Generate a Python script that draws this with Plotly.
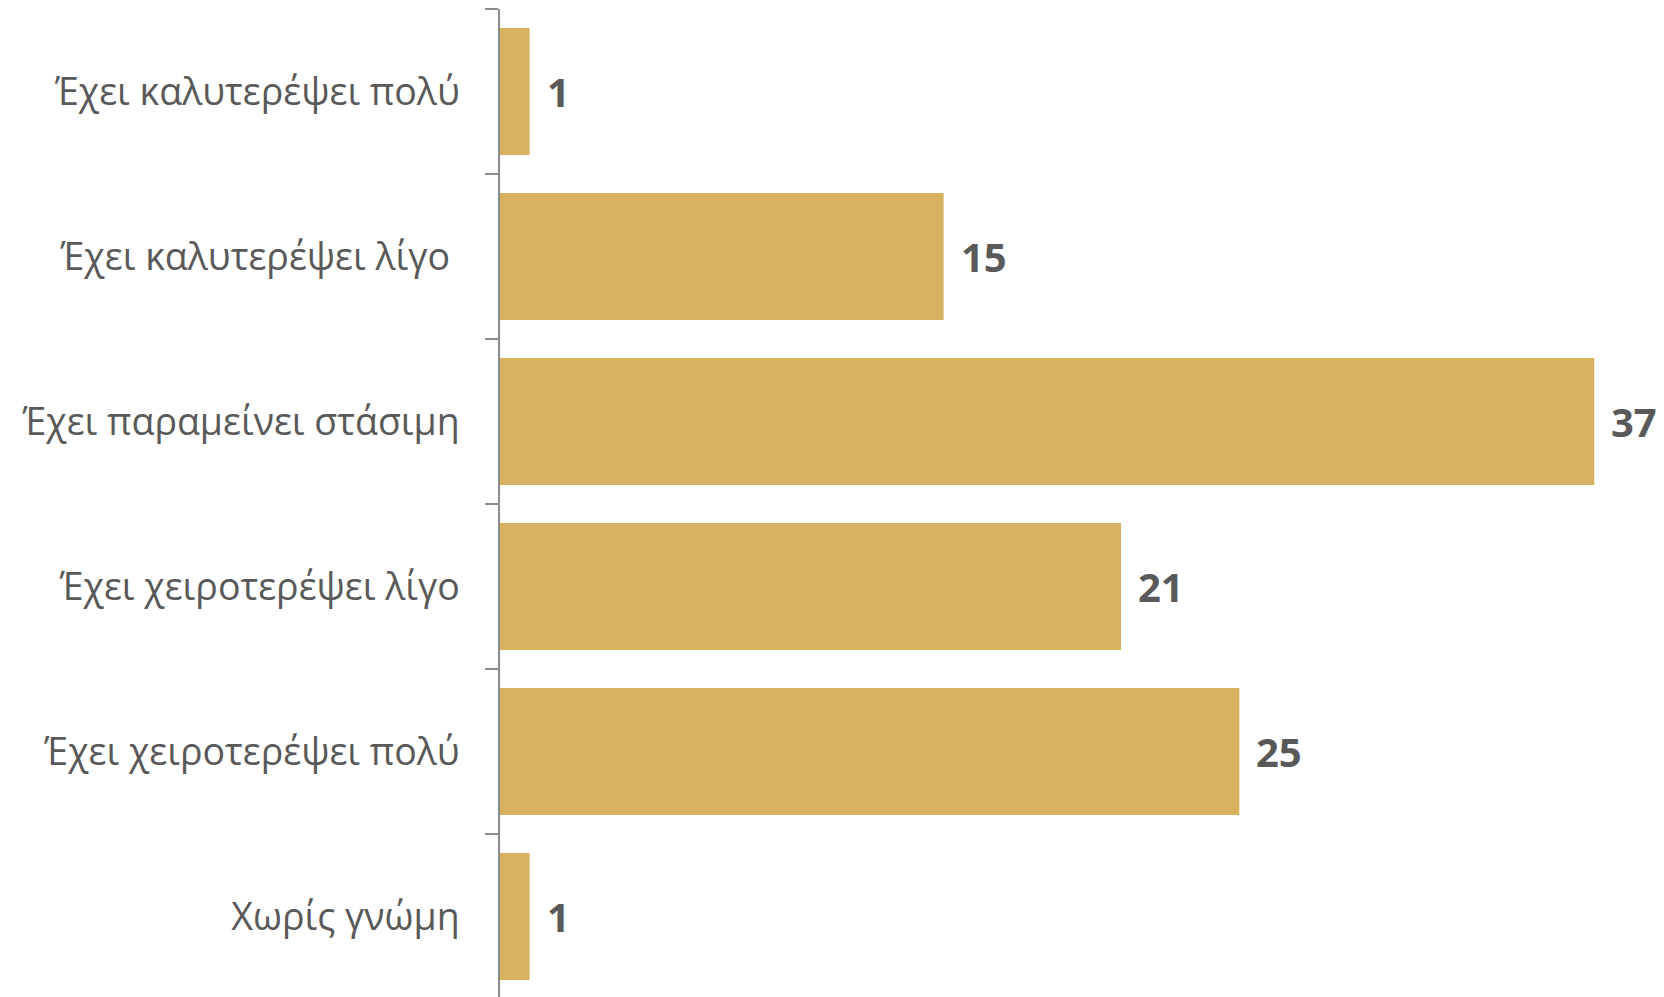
import plotly.graph_objects as go

categories = [
    "Έχει καλυτερέψει πολύ",
    "Έχει καλυτερέψει λίγο ",
    "Έχει παραμείνει στάσιμη",
    "Έχει χειροτερέψει λίγο",
    "Έχει χειροτερέψει πολύ",
    "Χωρίς γνώμη",
]
values = [1, 15, 37, 21, 25, 1]

bar_color = "#D7B15E"
text_color = "#595959"

fig = go.Figure()
fig.add_trace(go.Bar(
    x=values,
    y=categories,
    orientation="h",
    marker=dict(color=bar_color, line=dict(width=0)),
    width=0.77,
    hoverinfo="skip",
))

for c, v in zip(categories, values):
    fig.add_annotation(
        x=v, y=c, text=f"<b>{v}</b>", showarrow=False,
        xanchor="left", yanchor="middle", xshift=15, yshift=0,
        font=dict(family="Open Sans", size=40, color=text_color),
    )

fig.update_layout(
    width=1664, height=997,
    margin=dict(l=492, r=0, t=1, b=6),
    paper_bgcolor="white", plot_bgcolor="white",
    showlegend=False,
    bargap=0.23,
    font=dict(family="Open Sans", color=text_color),
)
fig.update_xaxes(range=[0, 39.63], visible=False, fixedrange=True)
fig.update_yaxes(
    autorange="reversed",
    showline=True, linecolor="#8C8C8C", linewidth=1.5,
    ticks="outside", ticklen=13, tickcolor="#8C8C8C", tickwidth=1.5,
    tickson="boundaries",
    ticklabelstandoff=31,
    tickfont=dict(family="Open Sans", size=37.5, color=text_color),
    showgrid=False, zeroline=False,
)

fig.write_html("out.html")
